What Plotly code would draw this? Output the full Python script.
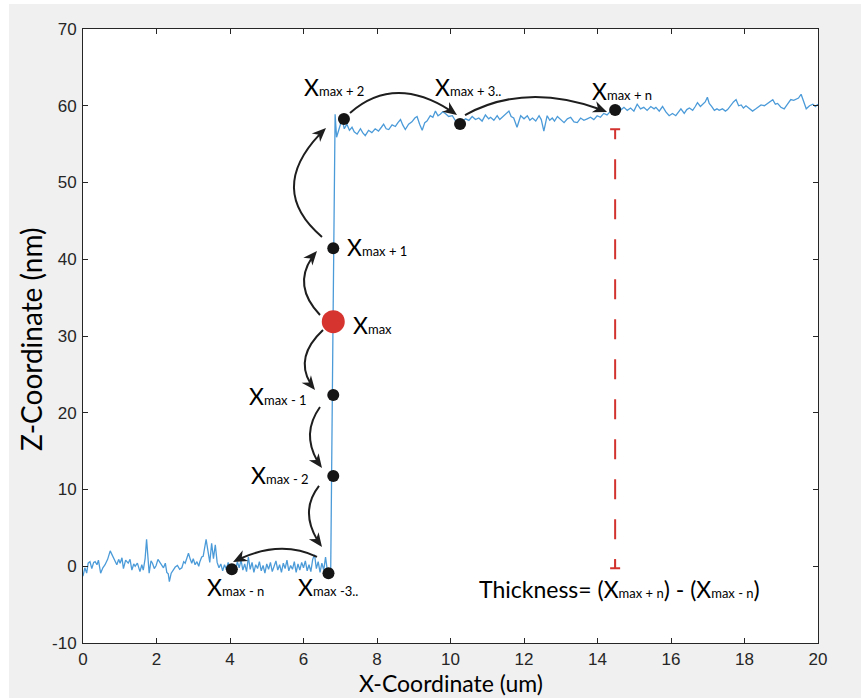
import numpy as np
import plotly.graph_objects as go

# ---- surface profile (um, nm) ----
x_um = [
    0.00, 0.05, 0.10, 0.14, 0.19, 0.24, 0.29, 0.33, 0.38, 0.42, 0.48, 0.54, 0.60, 0.67, 0.74, 0.79,
    0.83, 0.88, 0.92, 0.97, 1.01, 1.06, 1.10, 1.16, 1.23, 1.28, 1.33, 1.38, 1.42, 1.48, 1.55, 1.60,
    1.64, 1.69, 1.73, 1.77, 1.80, 1.85, 1.89, 1.94, 1.99, 2.04, 2.08, 2.13, 2.19, 2.24, 2.28, 2.32,
    2.35, 2.40, 2.46, 2.51, 2.57, 2.63, 2.69, 2.74, 2.78, 2.83, 2.87, 2.92, 2.96, 3.00, 3.05, 3.10,
    3.15, 3.18, 3.23, 3.27, 3.31, 3.35, 3.40, 3.45, 3.50, 3.55, 3.60, 3.65, 3.70, 3.75, 3.80, 3.85,
    3.90, 3.95, 4.00, 4.05, 4.10, 4.15, 4.20, 4.25, 4.30, 4.35, 4.40, 4.45, 4.50, 4.55, 4.60, 4.65,
    4.70, 4.75, 4.80, 4.85, 4.90, 4.95, 5.00, 5.05, 5.10, 5.15, 5.20, 5.25, 5.30, 5.35, 5.40, 5.45,
    5.50, 5.55, 5.60, 5.65, 5.70, 5.75, 5.80, 5.85, 5.90, 5.95, 6.00, 6.05, 6.10, 6.15, 6.20, 6.25,
    6.30, 6.35, 6.40, 6.45, 6.50, 6.55, 6.60, 6.65, 6.70, 6.74, 6.80, 6.86, 6.90, 6.96, 7.00, 7.05,
    7.11, 7.18, 7.25, 7.32, 7.38, 7.46, 7.55, 7.61, 7.68, 7.77, 7.86, 7.95, 8.04, 8.12, 8.18, 8.25,
    8.32, 8.41, 8.50, 8.57, 8.64, 8.70, 8.77, 8.86, 8.95, 9.03, 9.09, 9.16, 9.23, 9.30, 9.36, 9.45,
    9.52, 9.59, 9.66, 9.72, 9.79, 9.86, 9.95, 10.05, 10.14, 10.23, 10.32, 10.41, 10.50, 10.59, 10.68, 10.77,
    10.86, 10.95, 11.04, 11.09, 11.18, 11.27, 11.34, 11.41, 11.50, 11.59, 11.65, 11.72, 11.81, 11.91, 12.00, 12.09,
    12.16, 12.23, 12.32, 12.41, 12.47, 12.54, 12.63, 12.70, 12.77, 12.83, 12.91, 13.00, 13.09, 13.18, 13.27, 13.36,
    13.45, 13.54, 13.63, 13.72, 13.81, 13.90, 13.99, 14.08, 14.17, 14.26, 14.36, 14.43, 14.49, 14.59, 14.65, 14.72,
    14.81, 14.90, 14.99, 15.08, 15.17, 15.26, 15.35, 15.45, 15.54, 15.59, 15.68, 15.77, 15.86, 15.95, 16.04, 16.13,
    16.21, 16.27, 16.36, 16.43, 16.50, 16.59, 16.66, 16.72, 16.80, 16.86, 16.93, 16.99, 17.04, 17.11, 17.18, 17.25,
    17.31, 17.40, 17.48, 17.54, 17.63, 17.70, 17.77, 17.84, 17.91, 17.97, 18.04, 18.13, 18.22, 18.31, 18.39, 18.45,
    18.54, 18.63, 18.70, 18.77, 18.84, 18.90, 18.99, 19.08, 19.17, 19.26, 19.34, 19.40, 19.47, 19.54, 19.61, 19.68,
    19.77, 19.86, 19.93, 20.00,
]
z_nm = [
    -1.3, -0.2, -0.9, 0.4, 0.6, -0.3, 0.5, 0.6, 0.2, 0.8, -0.9, -0.2, 0.2, 0.9, 2.0, 1.5,
    1.2, 0.6, 0.2, 0.9, 0.4, 1.1, -0.3, 0.8, 0.4, 0.9, -0.5, 0.3, 0.0, 0.4, -0.7, 0.2,
    -0.5, 1.0, 3.5, 1.0, -0.9, 0.7, 0.4, -0.3, 0.1, 0.9, 0.6, 0.1, -0.2, 0.4, -0.8, -1.0,
    -2.0, -0.9, -0.5, -0.1, 0.1, -0.4, -0.2, 0.6, 0.4, 1.0, 1.7, 0.9, 0.4, 1.0, 0.2, 0.6,
    0.0, 0.6, 1.2, 1.3, 2.5, 3.5, 2.0, 0.5, 3.0, 1.0, 2.8, 0.5, -0.2, 0.3, -0.6, 0.2,
    -0.4, 0.5, -0.3, -0.5, 0.2, -0.6, 0.6, -0.2, 0.8, -0.5, 0.3, -0.7, 1.2, -0.4, 0.5, -0.8,
    0.2, -0.3, 0.6, -0.6, 0.1, -0.9, 0.3, -0.4, 0.5, -0.7, 0.0, 0.7, -0.5, 0.2, -0.8, 0.4,
    -0.3, 0.8, -0.6, 0.1, -0.4, 0.6, -0.8, 0.3, -0.5, 0.5, -0.2, 0.7, -0.6, 0.2, -0.7, 0.9,
    1.5, -0.3, 0.6, -0.8, 0.4, -0.5, 1.2, -0.6, -1.2, -0.8, 30.0, 58.9, 55.9, 56.7, 57.5, 58.3,
    57.0, 57.6, 56.8, 57.2, 56.6, 56.3, 57.0, 56.5, 56.1, 56.8, 56.5, 57.0, 56.7, 57.2, 57.6, 57.0,
    56.9, 57.5, 57.3, 57.8, 58.2, 57.5, 56.9, 57.6, 57.9, 58.4, 58.6, 57.6, 56.8, 57.8, 58.0, 58.7,
    58.5, 59.3, 58.7, 58.9, 59.2, 59.0, 58.6, 58.7, 58.0, 57.6, 58.0, 58.3, 58.1, 58.6, 58.2, 58.4,
    58.0, 58.8, 58.3, 58.5, 58.1, 58.7, 58.2, 58.5, 58.9, 59.3, 58.6, 58.4, 57.2, 58.7, 58.3, 58.7,
    58.1, 58.4, 58.0, 58.7, 58.2, 56.7, 58.7, 58.1, 58.4, 58.0, 58.6, 58.2, 57.8, 58.3, 58.5, 57.9,
    57.8, 58.4, 58.1, 58.3, 58.5, 58.2, 58.7, 58.5, 59.0, 58.8, 59.3, 59.1, 59.5, 59.9, 59.5, 59.8,
    59.4, 59.7, 59.3, 60.2, 59.6, 59.8, 59.4, 59.9, 59.6, 59.8, 59.3, 59.9, 59.2, 58.7, 59.0, 58.7,
    59.2, 59.6, 59.0, 59.5, 59.7, 59.4, 59.9, 60.4, 59.9, 60.2, 60.5, 61.1, 60.3, 59.9, 59.4, 59.6,
    59.4, 59.6, 59.3, 59.5, 60.1, 60.5, 60.8, 60.0, 60.1, 59.7, 60.0, 59.6, 59.3, 59.6, 59.9, 60.1,
    60.0, 60.3, 60.5, 60.8, 60.2, 60.3, 59.8, 59.6, 60.2, 60.8, 60.7, 60.8, 61.0, 61.5, 60.5, 59.6,
    60.0, 60.2, 59.9, 60.2,
]

# ---- marked points along the step ----
pt_x = [7.10, 10.26, 14.48, 6.81, 6.81, 6.81, 6.68, 4.05]
pt_z = [58.27, 57.62, 59.45, 41.43, 22.31, 11.76, -0.91, -0.39]
xmax_x = 6.81
xmax_z = 31.86

# ---- labels: subscript text, position, anchor ----
lab_sub = ["max + 2", "max + 3..", "max + n", "max + 1", "max", "max - 1", "max - 2", "max - n", "max -3.."]
lab_x = [5.96, 9.52, 13.80, 7.13, 7.29, 6.16, 6.21, 3.32, 5.80]
lab_z = [62.5, 62.5, 61.9, 41.6, 31.4, 22.2, 11.9, -2.7, -2.7]
lab_anchor = ["left", "left", "left", "left", "left", "right", "right", "left", "left"]

# ---- hop arrows between points: start, mid-curve, tip (um, nm) ----
arrows = [
    ((6.449, 32.74), (6.014, 36.91), (6.367, 41.07)),
    ((6.531, 30.78), (6.041, 26.87), (6.313, 22.96)),
    ((6.449, 20.75), (6.177, 16.84), (6.503, 12.80)),
    ((6.422, 10.46), (6.150, 6.68), (6.503, 2.51)),
    ((6.367, 1.21), (5.279, 2.25), (4.082, 0.55)),
    ((6.503, 42.90), (5.741, 49.67), (6.612, 57.10)),
    ((7.265, 59.06), (8.626, 61.66), (10.177, 58.79)),
    ((10.395, 58.79), (12.218, 61.14), (14.259, 59.19)),
]

# ---- thickness marker ----
thick_x = 14.48
thick_top = 56.94
thick_bottom = -0.26

x_range = [0, 20]
y_range = [-10, 70]
x_ticks = list(range(0, 21, 2))
y_ticks = list(range(-10, 71, 10))
y_ticktext = [str(v) for v in y_ticks]  # plain hyphen for negatives

W, H = 861, 698
ML, MR, MT, MB = 83, 43, 29, 55
plot_w = W - ML - MR
plot_h = H - MT - MB
sx = plot_w / (x_range[1] - x_range[0])
sy = plot_h / (y_range[1] - y_range[0])

FONT = "Lato"
AX_FONT = "Liberation Sans, Arial, sans-serif"
INK = "#262626"

fig = go.Figure()

fig.add_trace(go.Scatter(
    x=x_um, y=z_nm, mode="lines",
    line=dict(color="#4c9bd9", width=1.3),
    hoverinfo="skip", showlegend=False,
))

fig.add_trace(go.Scatter(
    x=pt_x, y=pt_z, mode="markers",
    marker=dict(color="#151515", size=12),
    hoverinfo="skip", showlegend=False,
))
fig.add_trace(go.Scatter(
    x=[xmax_x], y=[xmax_z], mode="markers",
    marker=dict(color="#d6342f", size=23),
    hoverinfo="skip", showlegend=False,
))

shapes = []


def to_px(p):
    return np.array([p[0] * sx, p[1] * sy])


def to_data(q):
    return (q[0] / sx, q[1] / sy)


# curved arrows: quadratic bezier through the mid point + filled head
HEAD_L, HEAD_W = 14.0, 6.0
for p0, pm, p2 in arrows:
    P0, M, P2 = to_px(p0), to_px(pm), to_px(p2)
    C = 2 * M - 0.5 * (P0 + P2)
    d = P2 - C
    d = d / np.linalg.norm(d)
    n = np.array([-d[1], d[0]])
    ts = np.linspace(0, 1, 600)
    B = ((1 - ts)[:, None] ** 2) * P0 + (2 * (1 - ts) * ts)[:, None] * C + (ts[:, None] ** 2) * P2
    dist = np.linalg.norm(B - P2, axis=1)
    k = np.where(dist > 0.6 * HEAD_L)[0][-1]
    t0 = ts[k]
    Q1 = P0 + t0 * (C - P0)
    Q2 = B[k]
    a, b, c = to_data(P0), to_data(Q1), to_data(Q2)
    shapes.append(dict(
        type="path", xref="x", yref="y",
        path=f"M {a[0]},{a[1]} Q {b[0]},{b[1]} {c[0]},{c[1]}",
        line=dict(color="#1e1e1e", width=2),
    ))
    base = P2 - HEAD_L * d
    left = to_data(base + HEAD_W * n)
    right = to_data(base - HEAD_W * n)
    notch = to_data(P2 - 0.7 * HEAD_L * d)
    tip = to_data(P2)
    shapes.append(dict(
        type="path", xref="x", yref="y",
        path=(f"M {tip[0]},{tip[1]} L {left[0]},{left[1]} L {notch[0]},{notch[1]} "
              f"L {right[0]},{right[1]} Z"),
        fillcolor="#1e1e1e", line=dict(width=0),
    ))

# thickness marker: dashed red line with end caps
RED = "#d2332f"
cap = 5.0 / sx
stem = 10.0 / sy
gap = 20.0 / sy
shapes.append(dict(type="line", xref="x", yref="y",
                   x0=thick_x, x1=thick_x, y0=thick_top - stem - gap, y1=thick_bottom,
                   line=dict(color=RED, width=2, dash="20px,20px")))
shapes.append(dict(type="line", xref="x", yref="y",
                   x0=thick_x, x1=thick_x, y0=thick_top, y1=thick_top - stem,
                   line=dict(color=RED, width=2)))
shapes.append(dict(type="line", xref="x", yref="y",
                   x0=thick_x - cap, x1=thick_x + cap, y0=thick_top, y1=thick_top,
                   line=dict(color=RED, width=2)))
shapes.append(dict(type="line", xref="x", yref="y",
                   x0=thick_x, x1=thick_x, y0=thick_bottom, y1=thick_bottom + 1.2,
                   line=dict(color=RED, width=1.5)))
shapes.append(dict(type="line", xref="x", yref="y",
                   x0=thick_x - cap, x1=thick_x + cap, y0=thick_bottom, y1=thick_bottom,
                   line=dict(color=RED, width=2)))

# white strips around the grey figure frame
shapes.append(dict(type="rect", xref="paper", yref="paper", layer="below",
                   x0=-ML / plot_w - 0.01, x1=(9 - ML) / plot_w,
                   y0=-MB / plot_h - 0.01, y1=1 + MT / plot_h + 0.01,
                   fillcolor="white", line=dict(width=0)))
shapes.append(dict(type="rect", xref="paper", yref="paper", layer="below",
                   x0=-ML / plot_w - 0.01, x1=1 + MR / plot_w + 0.01,
                   y0=1 + (MT - 4) / plot_h, y1=1 + MT / plot_h + 0.01,
                   fillcolor="white", line=dict(width=0)))

annotations = []
SUB = 13


def xlabel(sub):
    return f"X<span style='font-size:{SUB}px'>{sub}</span>"


for sub, lx, lz, anc in zip(lab_sub, lab_x, lab_z, lab_anchor):
    annotations.append(dict(
        x=lx, y=lz, xref="x", yref="y", text=xlabel(sub), showarrow=False,
        xanchor=anc, yanchor="middle", font=dict(family=FONT, size=23, color="black"),
    ))

annotations.append(dict(
    x=10.72, y=-2.9, xref="x", yref="y",
    text="Thickness= (" + xlabel("max + n") + ") - (" + xlabel("max - n") + ")",
    showarrow=False, xanchor="left", yanchor="middle",
    font=dict(family=FONT, size=23, color="black"),
))

# axis titles
annotations.append(dict(
    x=0.5, y=-(683 - (H - MB)) / plot_h, xref="paper", yref="paper",
    text="X-Coordinate (um)", showarrow=False, xanchor="center", yanchor="middle",
    borderpad=0, font=dict(family=FONT, size=23, color="black"),
))
annotations.append(dict(
    x=(31 - ML) / plot_w, y=0.5 - (340 - (MT + plot_h / 2)) / plot_h, xref="paper", yref="paper",
    text="Z-Coordinate (nm)", showarrow=False, textangle=-90,
    xanchor="center", yanchor="middle",
    font=dict(family=FONT, size=28, color="black"),
))

axis_common = dict(
    showgrid=False, zeroline=False, showline=True, linecolor=INK, linewidth=1,
    mirror="ticks", ticks="inside", ticklen=5, tickcolor=INK, tickwidth=1,
    tickfont=dict(family=AX_FONT, size=17, color=INK),
)

fig.update_layout(
    width=W, height=H, autosize=False,
    margin=dict(l=ML, r=MR, t=MT, b=MB),
    paper_bgcolor="#f0f0f0", plot_bgcolor="white",
    xaxis=dict(range=x_range, tickvals=x_ticks, ticklabelstandoff=1, **axis_common),
    yaxis=dict(range=y_range, tickvals=y_ticks, ticktext=y_ticktext,
               ticklabelstandoff=2, **axis_common),
    shapes=shapes, annotations=annotations, showlegend=False,
)

fig.write_html("out.html")
